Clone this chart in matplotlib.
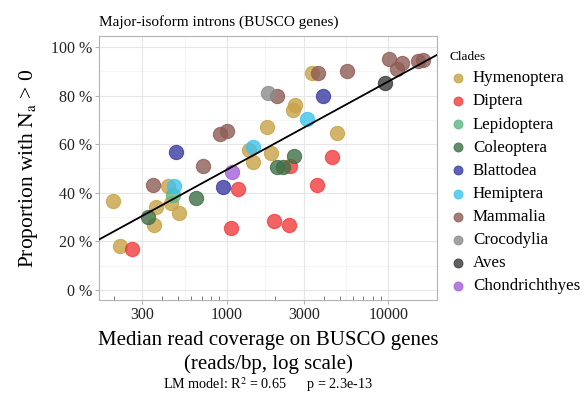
import matplotlib.pyplot as plt
import matplotlib.ticker as mticker
import numpy as np

plt.rcParams['font.family'] = ['Liberation Serif', 'DejaVu Serif']
plt.rcParams['mathtext.fontset'] = 'stix'

# values (coverage in reads/bp, proportion in %)
clades = ['Hymenoptera', 'Diptera', 'Lepidoptera', 'Coleoptera', 'Blattodea',
          'Hemiptera', 'Mammalia', 'Crocodylia', 'Aves', 'Chondrichthyes']
colors = ['#C8A246', '#F03C3C', '#5DB585', '#3F6F45', '#3B3BA3',
          '#3FC3EE', '#8E5C55', '#8C8C8C', '#3A3A3A', '#A35FD8']

hym_x = [199, 219, 365, 355, 435, 450, 507, 1380, 1461, 1783, 1872, 2560, 2647, 3357, 4832]
hym_y = [36.7, 18.1, 34.3, 26.7, 42.8, 35.7, 31.8, 57.6, 52.8, 67.0, 56.3, 74.1, 76.1, 89.4, 64.5]
dip_x = [258, 1170, 1063, 1971, 2440, 2464, 3604, 4500]
dip_y = [16.7, 41.6, 25.4, 28.5, 26.7, 51.0, 43.2, 54.9]
lep_x = [463]
lep_y = [39.1]
col_x = [327, 646, 2039, 2240, 2608]
col_y = [29.9, 37.7, 50.7, 50.5, 55.1]
bla_x = [486, 953, 3926]
bla_y = [56.9, 42.3, 79.8]
hem_x = [474, 1461, 3155]
hem_y = [42.8, 59.0, 70.2]
mam_x = [351, 716, 909, 1000, 2056, 3690, 5530, 10150, 11270, 12100, 15350, 16490]
mam_y = [43.2, 51.0, 64.1, 65.4, 79.8, 89.2, 90.3, 95.1, 90.8, 93.3, 94.4, 94.7]
cro_x = [1808]
cro_y = [81.2]
ave_x = [9540]
ave_y = [85.1]
cho_x = [1074]
cho_y = [48.7]

xs = [hym_x, dip_x, lep_x, col_x, bla_x, hem_x, mam_x, cro_x, ave_x, cho_x]
ys = [hym_y, dip_y, lep_y, col_y, bla_y, hem_y, mam_y, cro_y, ave_y, cho_y]

x_ticks = [300, 1000, 3000, 10000]
y_ticks = [0, 20, 40, 60, 80, 100]

fig = plt.figure(figsize=(5.84, 3.96), dpi=100)
ax = fig.add_axes([99/584, 1-300/396, 338/584, 264/396])

for name, c, x, y in zip(clades, colors, xs, ys):
    ax.scatter(x, y, s=105, color=c, alpha=0.8, edgecolor=c, linewidth=0.8,
               label=name, zorder=3)

# linear model on log10 coverage
all_x = np.concatenate([np.array(v, float) for v in xs])
all_y = np.concatenate([np.array(v, float) for v in ys])
slope, icpt = np.polyfit(np.log10(all_x), all_y, 1)
lx = np.array([150, 21000])
ax.plot(lx, icpt + slope*np.log10(lx), color='black', lw=1.3, zorder=4)

ax.set_xscale('log')
ax.set_xlim(162, 20000)
ax.set_ylim(-4.1, 104.5)
ax.set_xticks(x_ticks)
ax.xaxis.set_major_formatter(mticker.FuncFormatter(lambda v, p: '%d' % v))
ax.xaxis.set_minor_locator(mticker.FixedLocator(
    [200, 400, 500, 600, 700, 800, 900, 2000, 4000, 5000, 6000, 7000, 8000, 9000]))
ax.xaxis.set_minor_formatter(mticker.NullFormatter())
ax.set_yticks(y_ticks)
ax.set_yticks([10, 30, 50, 70, 90], minor=True)
ax.yaxis.set_major_formatter(mticker.FuncFormatter(lambda v, p: '%d %%' % v))

# grid: majors and ggplot-style minor lines
ax.grid(which='major', color='#E6E6E6', lw=0.8)
for v in [548, 1732, 5477]:
    ax.axvline(v, color='#F2F2F2', lw=0.5, zorder=0)
for v in [10, 30, 50, 70, 90]:
    ax.axhline(v, color='#F2F2F2', lw=0.5, zorder=0)
ax.set_axisbelow(True)

for s in ax.spines.values():
    s.set_color('#B3B3B3')
    s.set_linewidth(0.8)
ax.tick_params(which='major', length=3, color='#B3B3B3', labelsize=11.5,
               labelcolor='#222222', pad=2)
ax.tick_params(axis='x', which='minor', direction='in', length=3, color='#666666')
ax.tick_params(axis='y', which='minor', length=0)

ax.set_xlabel('Median read coverage on BUSCO genes\n(reads/bp, log scale)',
              fontsize=15, labelpad=6, linespacing=1.3)
ax.set_ylabel(r'Proportion with $\mathrm{N_a}$ > 0', fontsize=15.5, labelpad=8)
ax.set_title('Major-isoform introns (BUSCO genes)', loc='left', fontsize=11, pad=7)

fig.text(268/584, 1-385/396, r'LM model: R$^2$ = 0.65      p = 2.3e-13',
         ha='center', va='center', fontsize=10.2)

leg = ax.legend(loc='upper left', bbox_to_anchor=(434/584, 1-36/396),
                bbox_transform=fig.transFigure, frameon=False, title='Clades',
                fontsize=12.2, title_fontsize=9.5, labelspacing=0.42,
                handlelength=1.0, handletextpad=0.4, markerscale=0.62,
                alignment='left')

fig.savefig('out.png', dpi=100)
